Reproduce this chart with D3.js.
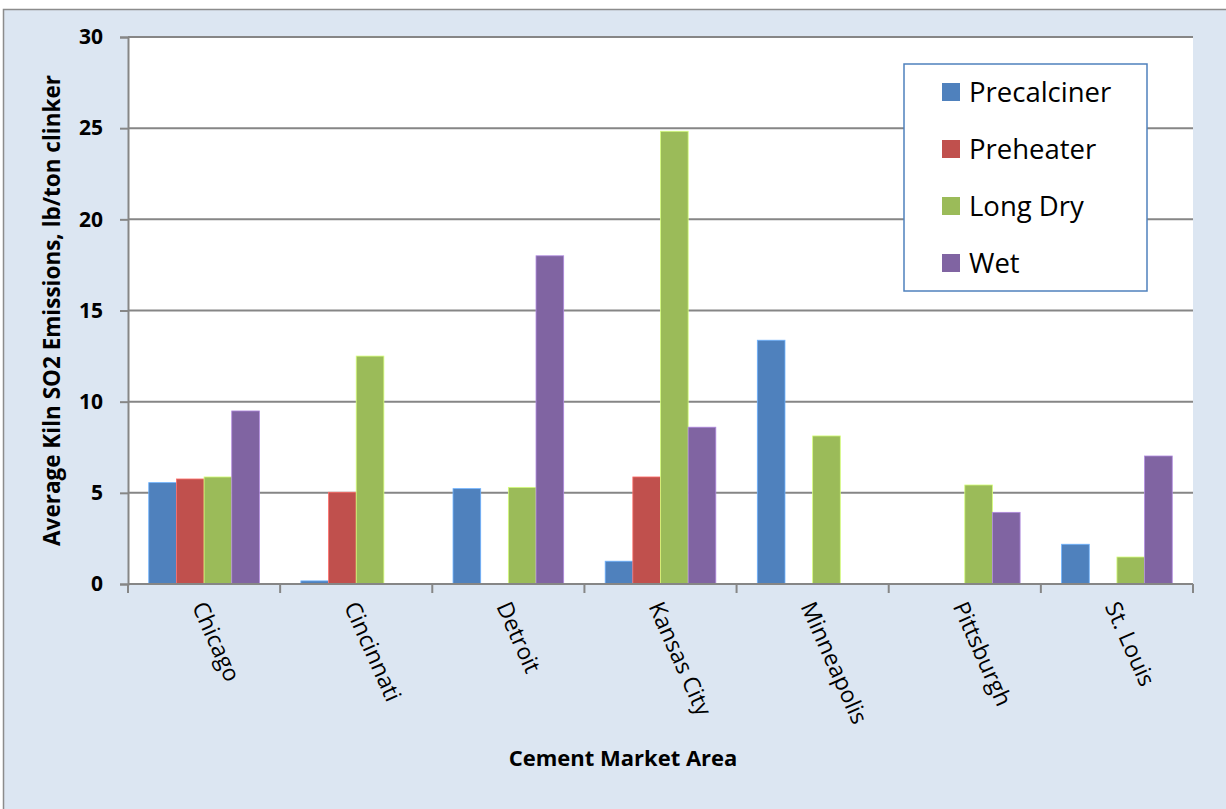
<!DOCTYPE html>
<html>
<head>
<meta charset="utf-8">
<script src="https://cdn.jsdelivr.net/npm/d3@7"></script>
<style>
  html, body { margin: 0; padding: 0; background: #ffffff; }
  svg { display: block; }
</style>
</head>
<body>
<svg id="chart" width="1226" height="809"></svg>
<script>
// Market areas and kiln types
const categories = ["Chicago", "Cincinnati", "Detroit", "Kansas City", "Minneapolis", "Pittsburgh", "St. Louis"];
const seriesNames = ["Precalciner", "Preheater", "Long Dry", "Wet"];
const seriesColors = ["#4f81bd", "#c0504d", "#9bbb59", "#8064a2"];

// Average kiln SO2 emissions, lb/ton clinker (0 = no kiln of that type)
const precalciner = [5.56, 0.17, 5.23, 1.25, 13.37, 0, 2.18];
const preheater   = [5.76, 5.03, 0, 5.87, 0, 0, 0];
const longDry     = [5.87, 12.5, 5.3, 24.83, 8.12, 5.43, 1.48];
const wet         = [9.49, 0, 18.0, 8.6, 0, 3.93, 7.02];

const yTicks = [0, 5, 10, 15, 20, 25, 30];

const seriesValues = [precalciner, preheater, longDry, wet];

const FONT = "'Open Sans', Lato, sans-serif";
const svg = d3.select("#chart");
const W = 1226, H = 809;
const plot = { left: 128, right: 1193, top: 37, bottom: 584 };

// chart area background and frame
svg.append("rect").attr("x", 0).attr("y", 0).attr("width", W).attr("height", H).attr("fill", "#ffffff");
svg.append("rect").attr("x", 3.5).attr("y", 9.5).attr("width", W + 10).attr("height", H + 10)
  .attr("fill", "#dce6f2").attr("stroke", "#8c8c8c").attr("stroke-width", 1.5);

// plot area
svg.append("rect").attr("x", plot.left).attr("y", plot.top)
  .attr("width", plot.right - plot.left).attr("height", plot.bottom - plot.top)
  .attr("fill", "#ffffff");

const x0 = d3.scaleBand().domain(categories).range([plot.left, plot.right]).paddingInner(0).paddingOuter(0);
// 150% gap width: group of 4 bars occupies 4/(4+1.5) of the band
const groupFrac = 4 / 5.5;
const x1 = d3.scaleBand().domain(seriesNames)
  .range([0, x0.bandwidth() * groupFrac]).padding(0);
const groupOffset = x0.bandwidth() * (1 - groupFrac) / 2;

const y = d3.scaleLinear().domain([0, 30]).range([plot.bottom, plot.top]);

// gridlines
svg.append("g").selectAll("line").data(yTicks.filter(t => t > 0)).join("line")
  .attr("x1", plot.left).attr("x2", plot.right)
  .attr("y1", d => y(d)).attr("y2", d => y(d))
  .attr("stroke", "#868686").attr("stroke-width", 2);

// bars
const rows = [];
categories.forEach((c, i) => {
  seriesNames.forEach((s, j) => {
    rows.push({ cat: c, series: s, value: seriesValues[j][i], color: seriesColors[j] });
  });
});
svg.append("g").selectAll("rect").data(rows.filter(d => d.value > 0)).join("rect")
  .attr("x", d => x0(d.cat) + groupOffset + x1(d.series))
  .attr("width", x1.bandwidth())
  .attr("y", d => y(d.value))
  .attr("height", d => y(0) - y(d.value))
  .attr("fill", d => d.color)
  .attr("stroke", d => d3.color(d.color).brighter(0.9))
  .attr("stroke-width", 0.8);

// y axis
const yAxis = d3.axisLeft(y).tickValues(yTicks).tickSize(8).tickPadding(17).tickFormat(d3.format("d"));
const gy = svg.append("g").attr("transform", `translate(${plot.left},0)`).call(yAxis);
gy.select(".domain").attr("stroke", "#868686").attr("stroke-width", 2);
gy.selectAll(".tick line").attr("stroke", "#868686").attr("stroke-width", 2);
gy.selectAll(".tick text").attr("fill", "#000").attr("font-family", FONT)
  .attr("font-weight", "bold").attr("font-size", 21);

// x axis with boundary ticks between categories
const xAxisY = plot.bottom;
svg.append("line").attr("x1", plot.left).attr("x2", plot.right)
  .attr("y1", xAxisY).attr("y2", xAxisY).attr("stroke", "#868686").attr("stroke-width", 2);
const boundaries = categories.map(c => x0(c)).concat([plot.right]);
svg.append("g").selectAll("line").data(boundaries).join("line")
  .attr("x1", d => d).attr("x2", d => d)
  .attr("y1", xAxisY).attr("y2", xAxisY + 9)
  .attr("stroke", "#868686").attr("stroke-width", 2);

// rotated category labels
svg.append("g").selectAll("text").data(categories).join("text")
  .attr("transform", d => `translate(${x0(d) + x0.bandwidth() / 2 - 5},${xAxisY + 19}) rotate(66)`)
  .attr("font-family", FONT)
  .attr("font-size", 23)
  .attr("fill", "#000")
  .attr("dy", "0.35em")
  .text(d => d);

// axis titles
svg.append("text")
  .attr("transform", `translate(60,${(plot.top + plot.bottom) / 2}) rotate(-90)`)
  .attr("text-anchor", "middle")
  .attr("font-family", FONT)
  .attr("font-weight", "bold").attr("font-size", 22.5).attr("fill", "#000")
  .text("Average Kiln SO2 Emissions, lb/ton clinker");

svg.append("text")
  .attr("x", 623).attr("y", 766)
  .attr("text-anchor", "middle")
  .attr("font-family", FONT)
  .attr("font-weight", "bold").attr("font-size", 22).attr("fill", "#000")
  .text("Cement Market Area");

// legend
const legend = svg.append("g");
legend.append("rect").attr("x", 904).attr("y", 64).attr("width", 243).attr("height", 227)
  .attr("fill", "#ffffff").attr("stroke", "#4f81bd").attr("stroke-width", 1.5);
const items = legend.selectAll("g.item").data(seriesNames).join("g")
  .attr("class", "item")
  .attr("transform", (d, i) => `translate(942,${92 + i * 57})`);
items.append("rect").attr("x", 0).attr("y", -9).attr("width", 18).attr("height", 18)
  .attr("fill", (d, i) => seriesColors[i]);
items.append("text").attr("x", 27).attr("y", 0).attr("dy", "0.36em")
  .attr("font-family", FONT)
  .attr("font-size", 27.5).attr("fill", "#000")
  .text(d => d);
</script>
</body>
</html>
